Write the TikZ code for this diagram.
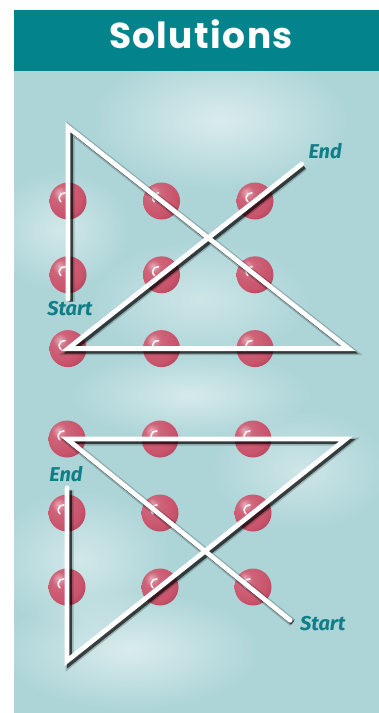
\documentclass[tikz,border=0pt]{standalone}
\usepackage{fontspec}
\setmainfont{Fira Sans}
\newfontfamily\headfont{Poppins}[LetterSpace=4]
\usetikzlibrary{calc,fadings}
\definecolor{headteal}{HTML}{03838B}
\definecolor{sky}{HTML}{ADD5D8}
\definecolor{berry}{HTML}{C9536B}
\definecolor{tagteal}{HTML}{0F7E86}
\tikzfading[name=puff,inner color=transparent!0,outer color=transparent!100]
\pgfdeclareradialshading{bead}{\pgfpoint{-12bp}{12bp}}{color(0bp)=(berry!50!white);color(10bp)=(berry!90!white);color(28bp)=(berry);color(46bp)=(berry!70!black);color(80bp)=(berry!55!black)}

\begin{document}
\begin{tikzpicture}[x=1pt,y=-1pt,
  dot/.style={circle,minimum size=37pt,inner sep=0pt,shading=bead,
    path picture={\draw[white,line width=1.7pt,opacity=.9,line cap=round] (path picture bounding box.center) ++(-3pt,8pt) arc[start angle=80,end angle=230,radius=5pt];}},
  trail/.style={draw=white,line width=4.8pt,line cap=round,line join=miter,
    preaction={draw=black,opacity=.2,line width=8pt,transform canvas={xshift=2.5pt,yshift=-2.5pt}},
    preaction={draw=black,opacity=.65,line width=4.8pt,transform canvas={xshift=2.5pt,yshift=-2.5pt}}},
  tag/.style={font=\fontsize{20}{22}\selectfont\bfseries\itshape,text=tagteal,inner sep=0pt},
  puff/.style={fill=white,path fading=puff}]
  \useasboundingbox (0,0) rectangle (379,713);
  \fill[white] (0,0) rectangle (379,713);
  \fill[sky] (14,71) rectangle (379,713);
  \begin{scope}
    \clip (14,71) rectangle (379,713);
    \fill[puff,opacity=.55] (220,120) ellipse [x radius=130pt,y radius=70pt];
    \fill[puff,opacity=.45] (60,230) ellipse [x radius=70pt,y radius=60pt];
    \fill[puff,opacity=.4] (200,300) ellipse [x radius=110pt,y radius=60pt];
    \fill[puff,opacity=.5] (190,395) ellipse [x radius=120pt,y radius=45pt];
    \fill[puff,opacity=.4] (300,470) ellipse [x radius=90pt,y radius=60pt];
    \fill[puff,opacity=.45] (80,560) ellipse [x radius=90pt,y radius=70pt];
    \fill[puff,opacity=.55] (130,650) ellipse [x radius=130pt,y radius=60pt];
  \end{scope}
  \fill[headteal] (14,10) rectangle (379,71);
  \node[font=\headfont\fontsize{36}{38}\selectfont\bfseries,text=white,anchor=base] (title) at (201,48) {Solutions};
  \begin{scope}[shift={(68,201)},x=93.5pt,y=-73.8pt]
    \foreach \i in {0,1,2} \foreach \j in {0,1,2} \node[dot] (a\i\j) at (\i,\j) {};
    \coordinate (aStart) at (0,1.33);
    \coordinate (aTop) at (0,-1);
    \coordinate (aCorner) at (3,2);
    \coordinate (aEnd) at (2.5,-0.5);
    \draw[trail] (aStart) -- (aTop) -- (aCorner) -- (a02.center) -- (aEnd);
    \node[tag] (aStartTag) at (0.02,1.46) {Start};
    \node[tag] (aEndTag) at (2.75,-0.68) {End};
  \end{scope}
  \begin{scope}[shift={(67,439)},x=93pt,y=-74pt]
    \foreach \i in {0,1,2} \foreach \j in {0,1,2} \node[dot] (b\i\j) at (\i,\j) {};
    \coordinate (bStart) at (2.4,2.45);
    \coordinate (bCorner) at (3,0);
    \coordinate (bFoot) at (0,3);
    \coordinate (bEnd) at (0,0.66);
    \draw[trail] (bStart) -- (b00.center) -- (bCorner) -- (bFoot) -- (bEnd);
    \node[tag] (bStartTag) at (2.75,2.49) {Start};
    \node[tag] (bEndTag) at (-0.01,0.47) {End};
  \end{scope}
\end{tikzpicture}
\end{document}
